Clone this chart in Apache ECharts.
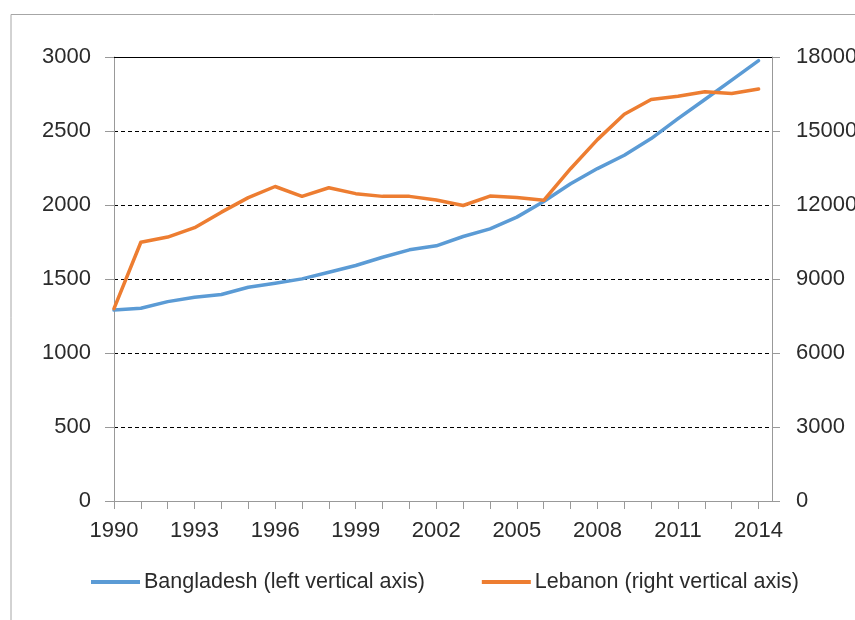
<!DOCTYPE html>
<html>
<head>
<meta charset="utf-8">
<script src="https://cdn.jsdelivr.net/npm/echarts@6/dist/echarts.min.js"></script>
<style>
  html, body { margin: 0; padding: 0; background: #fff; }
  #chart { width: 855px; height: 620px; }
</style>
</head>
<body>
<div id="chart"></div>
<script>
const years = [1990, 1991, 1992, 1993, 1994, 1995, 1996, 1997, 1998, 1999, 2000, 2001, 2002,
  2003, 2004, 2005, 2006, 2007, 2008, 2009, 2010, 2011, 2012, 2013, 2014]
const bangladesh = [1290, 1302, 1347, 1377, 1395, 1444, 1471, 1501, 1546, 1591, 1647, 1697, 1724,
  1787, 1839, 1918, 2024, 2144, 2246, 2336, 2449, 2584, 2713, 2844, 2975]
const lebanon = [7800, 10490, 10700, 11080, 11710, 12300, 12750, 12350, 12700, 12460, 12350, 12350, 12200,
  11980, 12360, 12300, 12190, 13470, 14650, 15680, 16280, 16410, 16590, 16520, 16700]
const yearLabels = [1990, 1993, 1996, 1999, 2002, 2005, 2008, 2011, 2014]
const leftTicks = [0, 500, 1000, 1500, 2000, 2500, 3000]
const rightTicks = [0, 3000, 6000, 9000, 12000, 15000, 18000]
const leftMax = 3000
const seriesNames = ['Bangladesh (left vertical axis)', 'Lebanon (right vertical axis)']

const font = "'Liberation Sans', Arial, sans-serif"
const textColor = '#2b2b2b'
const axisGray = '#999'
const plain = (v) => String(v)

const pairs = (vals) => years.map((y, i) => [y, vals[i]])

const chart = echarts.init(document.getElementById('chart'))
chart.setOption({
  animation: false,
  textStyle: { fontFamily: font },
  graphic: [{
    type: 'rect',
    shape: { x: 11, y: 14.5, width: 900, height: 700 },
    style: { fill: 'none', stroke: '#a6a6a6', lineWidth: 1 },
    silent: true
  }],
  legend: {
    left: 91,
    top: 571,
    padding: 0,
    icon: 'rect',
    itemWidth: 49,
    itemHeight: 4,
    itemGap: 57,
    textStyle: { fontSize: 21.5, color: textColor, fontFamily: font, padding: [0, 0, 0, -1] },
    data: seriesNames
  },
  grid: {
    left: 114,
    top: 57,
    width: 658,
    height: 444,
    containLabel: false,
    outerBoundsMode: 'none'
  },
  xAxis: {
    type: 'value',
    min: 1990,
    max: 2014.5,
    axisLine: { show: true, lineStyle: { color: axisGray } },
    axisTick: {
      show: true,
      length: 8,
      customValues: years,
      lineStyle: { color: axisGray }
    },
    axisLabel: {
      customValues: yearLabels,
      formatter: plain,
      margin: 19,
      fontSize: 22,
      color: textColor,
      fontFamily: font
    },
    splitLine: { show: false }
  },
  yAxis: [{
    type: 'value',
    min: 0,
    max: leftMax,
    interval: 500,
    axisLine: { show: true, lineStyle: { color: axisGray } },
    axisTick: { show: true, length: 9, lineStyle: { color: axisGray } },
    axisLabel: {
      customValues: leftTicks,
      formatter: plain,
      margin: 23,
      fontSize: 22,
      color: textColor,
      fontFamily: font
    },
    splitLine: { show: true, lineStyle: { color: '#000', type: [4, 3], width: 1 } }
  }, {
    type: 'value',
    position: 'right',
    min: 0,
    max: 18000,
    interval: 3000,
    axisLine: { show: true, lineStyle: { color: axisGray } },
    axisTick: { show: true, length: 8, lineStyle: { color: axisGray } },
    axisLabel: {
      customValues: rightTicks,
      formatter: plain,
      margin: 24,
      fontSize: 22,
      color: textColor,
      fontFamily: font
    },
    splitLine: { show: false }
  }],
  series: [
    {
      name: seriesNames[0],
      type: 'line',
      yAxisIndex: 0,
      showSymbol: false,
      symbol: 'none',
      color: '#5B9BD5',
      lineStyle: { width: 3.5, cap: 'round', join: 'round' },
      // solid top edge of the plot
      markLine: {
        silent: true,
        symbol: 'none',
        label: { show: false },
        lineStyle: { color: '#000', type: 'solid', width: 1 },
        data: [{ yAxis: leftMax }]
      },
      data: pairs(bangladesh)
    },
    {
      name: seriesNames[1],
      type: 'line',
      yAxisIndex: 1,
      showSymbol: false,
      symbol: 'none',
      color: '#ED7D31',
      lineStyle: { width: 3.5, cap: 'round', join: 'round' },
      data: pairs(lebanon)
    }
  ]
})
</script>
</body>
</html>
